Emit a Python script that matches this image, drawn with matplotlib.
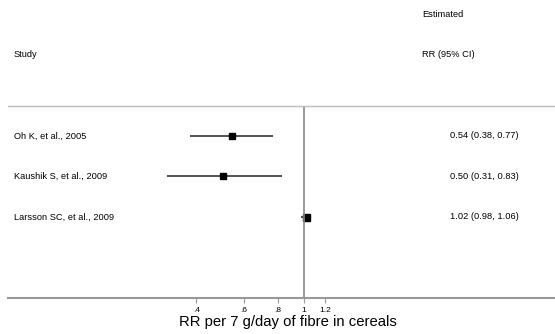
import matplotlib
matplotlib.use("Agg")
import matplotlib.pyplot as plt
import matplotlib.transforms as mtransforms

plt.rcParams['font.family'] = ['Liberation Sans', 'DejaVu Sans']

# Study data
studies = ["Oh K, et al., 2005", "Kaushik S, et al., 2009", "Larsson SC, et al., 2009"]
rr = [0.54, 0.50, 1.02]
lo = [0.38, 0.31, 0.98]
hi = [0.77, 0.83, 1.06]
marker_px = [6, 6, 7]
ticks = [0.4, 0.6, 0.8, 1.0, 1.2]
tick_labels = [".4", ".6", ".8", "1", "1.2"]

W, H = 555, 334
fig = plt.figure(figsize=(W / 100, H / 100), dpi=100)
ax = fig.add_axes([8 / W, (H - 298) / H, 1 - 8 / W, 298 / H])
ax.set_xscale("log")
ax.set_xlim(0.0799, 8.57)
ax.set_ylim(4.0, -3.358)

grey = "#999999"
for i in range(len(studies)):
    ax.plot([lo[i], hi[i]], [i, i], color="#222222", lw=1.1, solid_capstyle="butt")
    ax.plot(rr[i], i, marker="s", color="black", ms=marker_px[i] * 0.72, lw=0)

ax.vlines(1, -0.75, 4.0, color="#888888", lw=1.2)
ax.axhline(-0.75, color="#bbbbbb", lw=1.0)

for s in ["top", "left", "right"]:
    ax.spines[s].set_visible(False)
ax.spines["bottom"].set_color(grey)
ax.spines["bottom"].set_linewidth(1.5)
ax.set_yticks([])
ax.set_xticks(ticks)
ax.set_xticklabels(tick_labels)
ax.xaxis.set_minor_locator(matplotlib.ticker.NullLocator())
ax.tick_params(axis="x", length=3.3, width=0.8, color=grey, labelsize=6, pad=3)

# text columns: x in figure fraction, y in row units
tr = mtransforms.blended_transform_factory(fig.transFigure, ax.transData)
fs = 6.7
ax.text(14 / W, -2, "Study", transform=tr, fontsize=fs, va="center", ha="left")
ax.text(422 / W, -3, "Estimated", transform=tr, fontsize=fs, va="center", ha="left")
ax.text(422 / W, -2, "RR (95% CI)", transform=tr, fontsize=fs, va="center", ha="left")
for i, name in enumerate(studies):
    ax.text(14 / W, i, name, transform=tr, fontsize=fs, va="center", ha="left")
    ax.text(450 / W, i, f"{rr[i]:.2f} ({lo[i]:.2f}, {hi[i]:.2f})",
            transform=tr, fontsize=fs, va="center", ha="left")

fig.text(288 / W, 1 - 322 / H, "RR per 7 g/day of fibre in cereals",
         fontsize=10.75, ha="center", va="center")

fig.savefig("out.png", dpi=100)
